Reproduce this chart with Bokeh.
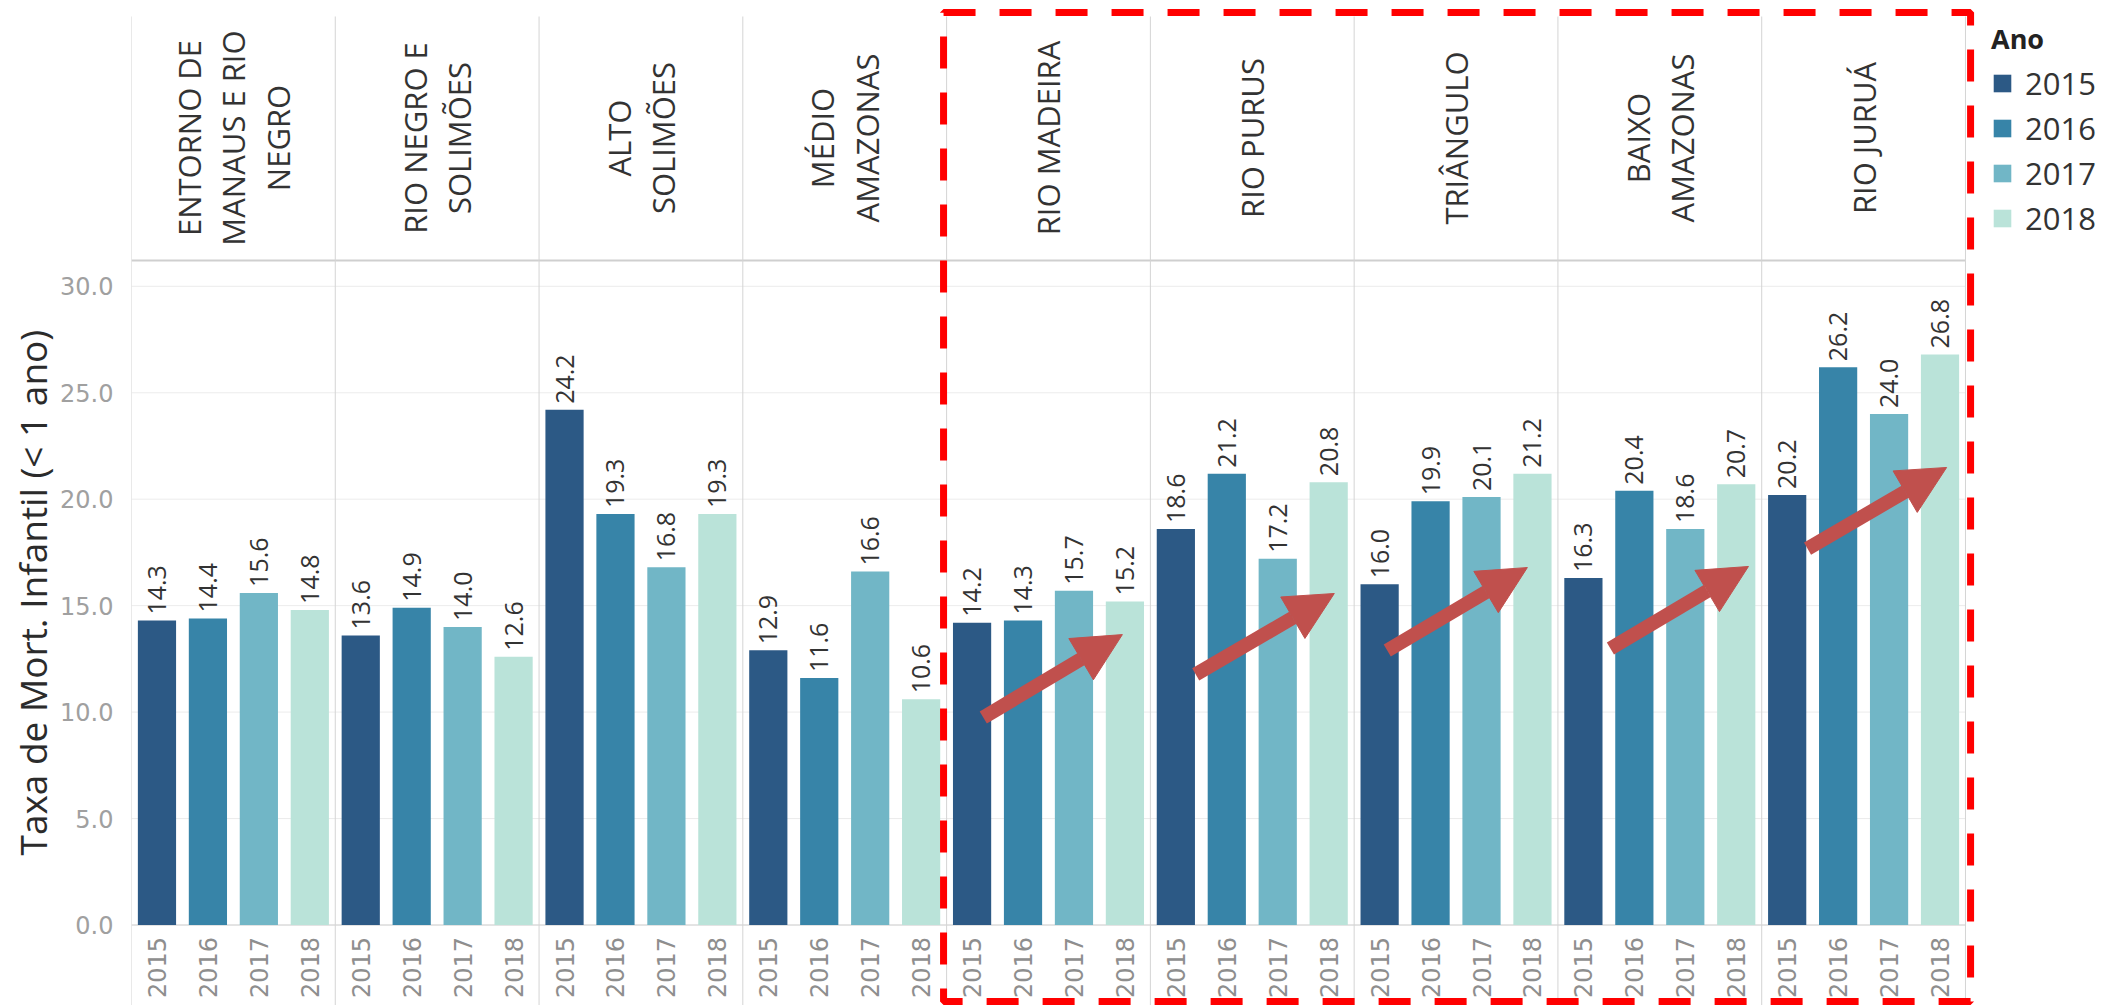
from math import pi

from bokeh.core.properties import value
from bokeh.embed import file_html
from bokeh.models import (Arrow, ColumnDataSource, FixedTicker, Legend, LegendItem,
                          NormalHead, NumeralTickFormatter, Range1d, Title)
from bokeh.plotting import figure
from bokeh.resources import INLINE

# ---------------------------------------------------------------- data
regions = [
    "ENTORNO DE\nMANAUS E RIO\nNEGRO",
    "RIO NEGRO E\nSOLIMÕES",
    "ALTO\nSOLIMÕES",
    "MÉDIO\nAMAZONAS",
    "RIO MADEIRA",
    "RIO PURUS",
    "TRIÂNGULO",
    "BAIXO\nAMAZONAS",
    "RIO JURUÁ",
]
years = ["2015", "2016", "2017", "2018"]
rate_2015 = [14.3, 13.6, 24.2, 12.9, 14.2, 18.6, 16.0, 16.3, 20.2]
rate_2016 = [14.4, 14.9, 19.3, 11.6, 14.3, 21.2, 19.9, 20.4, 26.2]
rate_2017 = [15.6, 14.0, 16.8, 16.6, 15.7, 17.2, 20.1, 18.6, 24.0]
rate_2018 = [14.8, 12.6, 19.3, 10.6, 15.2, 20.8, 21.2, 20.7, 26.8]
rates = [rate_2015, rate_2016, rate_2017, rate_2018]
year_colors = ["#2c5985", "#3784a8", "#71b6c6", "#bae3d9"]
y_ticks = [0, 5, 10, 15, 20, 25, 30]
y_title = "Taxa de Mort. Infantil (< 1 ano)"
legend_title = "Ano"

# regions with a rising trend, framed by the dashed box
first_rising = 4
# trend arrows (start -> end), in slot / rate units
arrow_x0 = [16.72, 20.89, 24.65, 29.03, 32.90]
arrow_y0 = [9.75, 11.77, 12.89, 12.99, 17.68]
arrow_x1 = [19.45, 23.61, 27.40, 31.74, 35.63]
arrow_y1 = [13.64, 15.57, 16.79, 16.84, 21.49]

# ---------------------------------------------------------------- geometry
W, H = 2113, 1005
LEFT = 131            # width of the y-axis gutter
SLOT_PX = 50.944      # one bar slot
UNIT_PX = 21.29       # one unit of the rate
BASE_PX = 924.5       # pixel row of zero
HEADER_LINE_PX = 44.5 # spacing of wrapped header lines
n_reg, n_year = len(regions), len(years)
n_slots = n_reg * n_year


def py(v):
    """pixel row -> rate units"""
    return (BASE_PX - v) / UNIT_PX


FONT = "Open Sans"
NUM_FONT = "DejaVu Sans"

p = figure(
    width=W, height=H,
    x_range=Range1d(0, (W - LEFT) / SLOT_PX),
    y_range=Range1d(py(H), py(0)),
    x_axis_location=None,
    title=None,
    toolbar_location=None,
    output_backend="svg",
    min_border_left=LEFT, min_border_right=0,
    min_border_top=0, min_border_bottom=0,
)
p.outline_line_color = None
p.background_fill_color = "white"
p.border_fill_color = "white"
p.xgrid.visible = False
p.ygrid.visible = False

# y axis
yax = p.yaxis[0]
yax.ticker = FixedTicker(ticks=y_ticks)
yax.formatter = NumeralTickFormatter(format="0.0")
yax.axis_line_color = None
yax.major_tick_line_color = None
yax.minor_tick_line_color = None
yax.major_label_text_font_size = "24px"
yax.major_label_text_color = "#a0a0a0"
yax.major_label_text_font = NUM_FONT
yax.major_label_standoff = 12

# rotated axis title, anchored at its lower end
p.add_layout(Title(text=y_title, align="left", offset=150, standoff=0,
                   text_font_size="37px", text_font_style="normal",
                   text_color="#2b2b2b", text_font=FONT), "left")

# light horizontal gridlines, the baseline and the header rule
grid_y = [t for t in y_ticks if t > 0]
p.segment(x0=[0] * len(grid_y), x1=[n_slots] * len(grid_y), y0=grid_y, y1=grid_y,
          line_color="#ececec", line_width=1)
p.segment(x0=[0], x1=[n_slots], y0=[0], y1=[0], line_color="#c8c8c8", line_width=1)
p.segment(x0=[0], x1=[n_slots], y0=[py(260)], y1=[py(260)], line_color="#cfcfcf", line_width=2)

# vertical pane separators
sep_x = [i * n_year for i in range(n_reg + 1)]
p.segment(x0=sep_x, x1=sep_x, y0=[py(H)] * len(sep_x), y1=[py(16)] * len(sep_x),
          line_color="#d4d4d4", line_width=1)

# region headers, one rotated text per wrapped line
hx, hy, htext, hoff = [], [], [], []
for i, name in enumerate(regions):
    lines = name.split("\n")
    for j, line in enumerate(lines):
        hx.append(i * n_year + n_year / 2)
        hy.append(py(137.5))
        htext.append(line)
        hoff.append((j - (len(lines) - 1) / 2) * HEADER_LINE_PX)
p.text(x=hx, y=hy, text=htext, x_offset=hoff,
       angle=pi / 2, text_align="center", text_baseline="middle",
       text_font=value(FONT), text_font_size="31px", text_color="#333333")

# bars, value labels and year labels
legend_items = []
for k, year in enumerate(years):
    src = ColumnDataSource(dict(
        x=[i * n_year + k + 0.5 for i in range(n_reg)],
        top=rates[k],
        label=[f"{v:.1f}" for v in rates[k]],
        year=[year] * n_reg,
        zero=[0] * n_reg,
    ))
    r = p.vbar(x="x", top="top", bottom=0, width=0.75, source=src,
               fill_color=year_colors[k], line_color=None)
    legend_items.append(LegendItem(label=year, renderers=[r]))
    p.text(x="x", y="top", text="label", source=src, angle=pi / 2,
           text_align="left", text_baseline="middle", y_offset=-6,
           text_font=value(FONT), text_font_size="25px", text_color="#333333")
    p.text(x="x", y="zero", text="year", source=src, angle=pi / 2,
           text_align="right", text_baseline="middle", y_offset=12,
           text_font=value(NUM_FONT), text_font_size="24px", text_color="#8e8e8e")

# dashed frame around the rising regions
p.quad(left=[first_rising * n_year - 0.06], right=[n_slots + 0.1],
       top=[py(12)], bottom=[py(1001)],
       fill_color=None, line_color="#ff0000", line_width=7, line_dash="32 24")

# trend arrows
arrow_src = ColumnDataSource(dict(x0=arrow_x0, y0=arrow_y0, x1=arrow_x1, y1=arrow_y1))
p.add_layout(Arrow(source=arrow_src, x_start="x0", y_start="y0", x_end="x1", y_end="y1",
                   line_color="#c0504d", line_width=14,
                   end=NormalHead(size=48, fill_color="#c0504d", line_color="#c0504d",
                                  line_width=1)))

legend = Legend(items=legend_items, title=legend_title, location=(1860, 766),
                glyph_width=22, glyph_height=22, label_standoff=12, spacing=3,
                padding=0, margin=0, border_line_color=None, background_fill_alpha=0,
                label_text_font=FONT, label_text_font_size="31px", label_text_color="#333333",
                title_text_font=FONT, title_text_font_size="27px",
                title_text_font_style="bold", title_text_color="#222222",
                title_standoff=5)
p.add_layout(legend)

open("out.html", "w").write(file_html(p, INLINE))
